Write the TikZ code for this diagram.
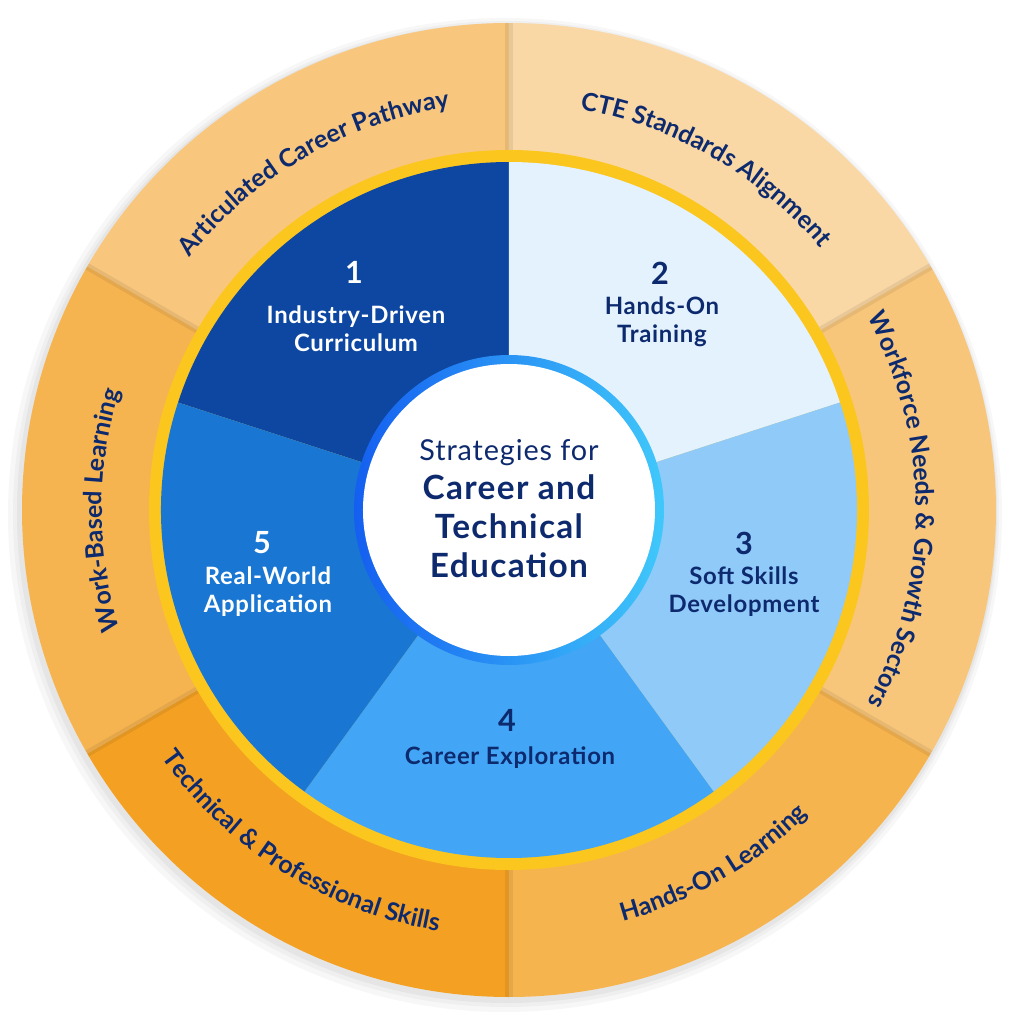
\documentclass[tikz,border=0pt]{standalone}
\usepackage{fontspec}
\setmainfont{Lato}
\usepackage{tikz}
\usetikzlibrary{positioning}
\usetikzlibrary{decorations.text}

\definecolor{navy}{RGB}{14,42,110}
\definecolor{secone}{RGB}{13,71,161}
\definecolor{sectwo}{RGB}{227,242,253}
\definecolor{secthree}{RGB}{144,202,249}
\definecolor{secfour}{RGB}{66,165,245}
\definecolor{secfive}{RGB}{25,118,210}
\definecolor{ringone}{RGB}{248,199,125}
\definecolor{ringtwo}{RGB}{250,216,165}
\definecolor{ringthree}{RGB}{248,198,123}
\definecolor{ringfour}{RGB}{246,180,79}
\definecolor{ringfive}{RGB}{244,161,35}
\definecolor{ringsix}{RGB}{246,180,81}
\definecolor{gold}{RGB}{251,198,30}
\definecolor{hubblue}{RGB}{20,95,240}
\definecolor{hubcyan}{RGB}{64,200,250}

\newcommand{\ringfont}{\fontsize{7.1}{8}\selectfont\bfseries}

\tikzset{
  numtext/.style={font=\fontsize{8.7}{10}\selectfont\bfseries, inner sep=0pt},
  labtext/.style={font=\fontsize{6.8}{7.97}\selectfont\bfseries\addfontfeature{LetterSpace=3}, align=center, inner sep=0pt},
  ringtext/.style={decorate, decoration={text along path, text align=center, text color=navy, text={#1}}},
  seam/.style={black, opacity=0.07, line width=2pt}
}

\begin{document}
\begin{tikzpicture}
                    \fill[white] (-5.09,-5.14) rectangle (5.15,5.10);
                    \fill[black, opacity=0.03] (-0.04,-0.05) circle (4.97);
                    \fill[black, opacity=0.03] (-0.03,-0.04) circle (4.93);
                    \fill[black, opacity=0.04] (-0.02,-0.03) circle (4.90);
                    \fill[ringone] (0,0) -- (90:4.87) arc[start angle=90, end angle=150, radius=4.87] -- cycle;
                    \fill[ringtwo] (0,0) -- (30:4.87) arc[start angle=30, end angle=90, radius=4.87] -- cycle;
                    \fill[ringthree] (0,0) -- (-30:4.87) arc[start angle=-30, end angle=30, radius=4.87] -- cycle;
                    \fill[ringfour] (0,0) -- (270:4.87) arc[start angle=270, end angle=330, radius=4.87] -- cycle;
                    \fill[ringfive] (0,0) -- (210:4.87) arc[start angle=210, end angle=270, radius=4.87] -- cycle;
                    \fill[ringsix] (0,0) -- (150:4.87) arc[start angle=150, end angle=210, radius=4.87] -- cycle;
                    \draw[seam] (90:3.6) -- (90:4.87);
                    \draw[seam] (30:3.6) -- (30:4.87);
                    \draw[seam] (-30:3.6) -- (-30:4.87);
                    \draw[seam] (270:3.6) -- (270:4.87);
                    \draw[seam] (210:3.6) -- (210:4.87);
                    \draw[seam] (150:3.6) -- (150:4.87);
                    \path[ringtext={|\ringfont|Articulated Career Pathway}] (150:4.07) arc[start angle=150, end angle=90, radius=4.07];
                    \path[ringtext={|\ringfont|CTE Standards Alignment}] (90:4.07) arc[start angle=90, end angle=30, radius=4.07];
                    \path[ringtext={|\ringfont|Workforce Needs {\&} Growth Sectors}] (30:4.07) arc[start angle=30, end angle=-30, radius=4.07];
                    \path[ringtext={|\ringfont|Hands-On Learning}] (270:4.27) arc[start angle=270, end angle=330, radius=4.27];
                    \path[ringtext={|\ringfont|Technical {\&} Professional Skills}] (208:4.27) arc[start angle=208, end angle=268, radius=4.27];
                    \path[ringtext={|\ringfont|Work-Based Learning}] (210:4.07) arc[start angle=210, end angle=150, radius=4.07];
                    \fill[gold] (0,0) circle (3.60);
                    \fill[secone] (0,0) -- (90:3.48) arc[start angle=90, end angle=162, radius=3.48] -- cycle;
                    \fill[sectwo] (0,0) -- (18:3.48) arc[start angle=18, end angle=90, radius=3.48] -- cycle;
                    \fill[secthree] (0,0) -- (-54:3.48) arc[start angle=-54, end angle=18, radius=3.48] -- cycle;
                    \fill[secfour] (0,0) -- (234:3.48) arc[start angle=234, end angle=306, radius=3.48] -- cycle;
                    \fill[secfive] (0,0) -- (162:3.48) arc[start angle=162, end angle=234, radius=3.48] -- cycle;
                    \shade[left color=hubblue, right color=hubcyan] (0,0) circle (1.55);
                    \fill[white] (0,0) circle (1.46);
                    \node[labtext, white, name=labone] at (-1.53,1.81) {Industry-Driven\\Curriculum};
                    \node[numtext, white, name=numone] at (-1.55,2.38) {1};
                    \node[labtext, navy, name=labtwo] at (1.53,1.88) {Hands-On\\Training};
                    \node[numtext, navy, name=numtwo] at (1.51,2.37) {2};
                    \node[labtext, navy, name=labthree] at (2.35,-0.82) {Soft Skills\\Development};
                    \node[numtext, navy, name=numthree] at (2.35,-0.33) {3};
                    \node[labtext, navy, name=labfour] at (0.01,-2.48) {Career Exploration};
                    \node[numtext, navy, name=numfour] at (-0.02,-2.10) {4};
                    \node[labtext, white, name=labfive] at (-2.41,-0.82) {Real-World\\Application};
                    \node[numtext, white, name=numfive] at (-2.47,-0.33) {5};
                    \node[navy, inner sep=0pt, font=\fontsize{8.2}{9}\selectfont\addfontfeature{LetterSpace=3}, name=hubtop] at (0,0.57) {Strategies for};
                    \node[navy, inner sep=0pt, align=center, font=\fontsize{9.5}{11.1}\selectfont\bfseries\addfontfeature{LetterSpace=4}, name=hubmain] at (0,-0.16) {Career and\\Technical\\Education};
                \end{tikzpicture}
\end{document}
